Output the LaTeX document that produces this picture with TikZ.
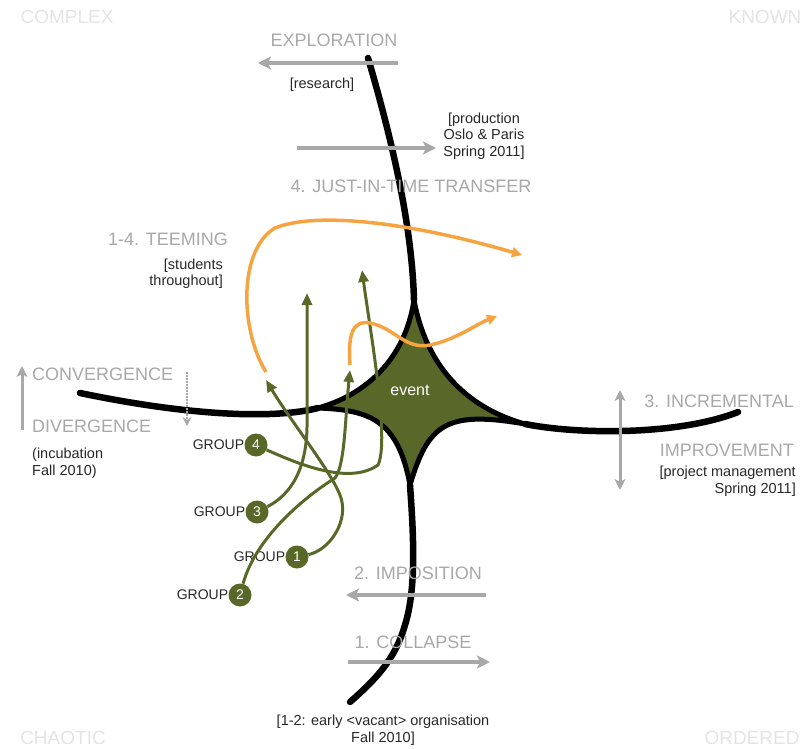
\documentclass[tikz,border=0pt]{standalone}
\usepackage{fontspec}
\setmainfont{Liberation Sans}
\usetikzlibrary{arrows.meta}
\definecolor{figG}{RGB}{88,104,40}
\definecolor{figO}{RGB}{246,164,66}
\definecolor{figA}{RGB}{168,168,168}
\definecolor{figT}{RGB}{40,40,40}
\definecolor{figL}{RGB}{228,228,228}
\begin{document}
\begin{tikzpicture}[x=1pt,y=-1pt,
  head/.style={font=\fontsize{18}{20}\selectfont,text=figA,inner sep=0pt},
  note/.style={font=\fontsize{14.5}{16.5}\selectfont,text=figT,inner sep=0pt},
  corner/.style={font=\fontsize{19}{20}\selectfont,text=figL,inner sep=0pt},
  grp/.style={circle,fill=figG,text=white,minimum size=23pt,inner sep=0pt,font=\fontsize{14}{14}\selectfont},
  glabel/.style={font=\fontsize{14}{14}\selectfont,text=figT,inner sep=0pt,anchor=east},
  move/.style={figA,line width=4pt,-{Stealth[length=13pt,width=13pt,inset=3pt]}},
  gline/.style={figG,line width=3pt,-{Triangle[length=12pt,width=10pt]}},
  oline/.style={figO,line width=3.5pt,-{Triangle[length=10pt,width=10pt]}},
  arm/.style={line width=6.5pt,line cap=round}]
\useasboundingbox (0,0) rectangle (809,749);
% corner labels
\node[corner] (cx) at (67,17) {COMPLEX};
\node[corner] (kn) at (765,17) {KNOWN};
\node[corner] (ch) at (63,738) {CHAOTIC};
\node[corner] (od) at (752,738) {ORDERED};
% the event star and its four arms
\coordinate (T) at (414,300); \coordinate (L) at (318,408);
\coordinate (R) at (525,424); \coordinate (B) at (410,485);
\filldraw[fill=figG,line width=5pt,line join=round] (T) .. controls (405,360) and (365,395) .. (L)
  .. controls (370,410) and (398,420) .. (B)
  .. controls (428,425) and (445,410) .. (R)
  .. controls (475,410) and (428,375) .. (T) -- cycle;
\draw[arm] (T) .. controls (412,230) and (395,150) .. (368,58);
\draw[arm] (L) .. controls (280,418) and (200,418) .. (80,393);
\draw[arm] (R) .. controls (580,435) and (680,435) .. (738,412);
\draw[arm] (B) .. controls (414,540) and (416,590) .. (405,625) .. controls (395,660) and (375,680) .. (350,702);
\node[text=white,font=\fontsize{16}{16}\selectfont] (ev) at (410,390) {event};
% gray movements
\coordinate (e1) at (398,63); \coordinate (e2) at (258,63);
\coordinate (p1) at (297,148); \coordinate (p2) at (436,148);
\coordinate (i1) at (486,595); \coordinate (i2) at (346,595);
\coordinate (c1) at (348,662); \coordinate (c2) at (490,662);
\draw[move] (e1) -- (e2);
\draw[move] (p1) -- (p2);
\draw[move] (i1) -- (i2);
\draw[move] (c1) -- (c2);
\draw[move,line width=3pt,{Stealth[length=11pt,width=11pt,inset=3pt]}-] (22,366) -- (22,430);
\draw[move,line width=3pt,{Stealth[length=11pt,width=11pt,inset=3pt]}-{Stealth[length=11pt,width=11pt,inset=3pt]}] (620,390) -- (620,490);
\draw[move,line width=2pt,densely dotted,-{Stealth[length=9pt,width=9pt]}] (187,372) -- (187,426);
% groups
\node[grp] (g4) at (256,445) {4};
\node[grp] (g3) at (257,512) {3};
\node[grp] (g1) at (297,557) {1};
\node[grp] (g2) at (240,595) {2};
\node[glabel] (l4) at (g4.west) {GROUP};
\node[glabel] (l3) at (g3.west) {GROUP};
\node[glabel] (l1) at (g1.west) {GROUP};
\node[glabel] (l2) at (g2.west) {GROUP};
\draw[gline] (g1) .. controls (330,550) and (350,520) .. (340,495) .. controls (330,470) and (290,420) .. (266,380);
\draw[gline] (g2) .. controls (255,540) and (300,500) .. (335,478) .. controls (345,465) and (345,420) .. (350,370);
\draw[gline] (g3) .. controls (290,495) and (308,470) .. (307,420) -- (307,293);
\draw[gline] (g4) .. controls (300,465) and (350,485) .. (378,465) .. controls (390,440) and (370,330) .. (362,270);
% teeming
\draw[oline] (266,372) .. controls (240,330) and (238,250) .. (275,228) .. controls (320,210) and (420,225) .. (522,255);
\draw[oline] (350,365) .. controls (348,335) and (352,320) .. (370,323) .. controls (395,328) and (405,350) .. (430,345) .. controls (455,340) and (475,325) .. (497,316);
% texts
\node[head] (xp) at (334,40) {EXPLORATION};
\node[note] (rs) at (322,85) {[research]};
\node[note,align=center] (pr) at (484,136) {[production\\Oslo \& Paris\\Spring 2011]};
\node[head] (jt) at (411,186) {4. JUST-IN-TIME TRANSFER};
\node[head,anchor=east] (tm) at (228,239) {1-4. TEEMING};
\node[note,align=right,anchor=east] (st) at (223,274) {[students\\throughout]};
\node[head,anchor=west] (cv) at (32,374) {CONVERGENCE};
\node[head,anchor=west] (dv) at (32,426) {DIVERGENCE};
\node[note,align=left,anchor=north west] (ic) at (32,448) {(incubation\\Fall 2010)};
\node[head,anchor=east] (ir) at (794,401) {3. INCREMENTAL};
\node[head,anchor=east] (im) at (794,450) {IMPROVEMENT};
\node[note,align=right,anchor=north east] (pm) at (796,466) {[project management\\Spring 2011]};
\node[head] (ip) at (418,573) {2. IMPOSITION};
\node[head] (cl) at (413,642) {1. COLLAPSE};
\node[note,align=center] (eo) at (383,730) {[1-2: early <vacant> organisation\\Fall 2010]};
\end{tikzpicture}
\end{document}
